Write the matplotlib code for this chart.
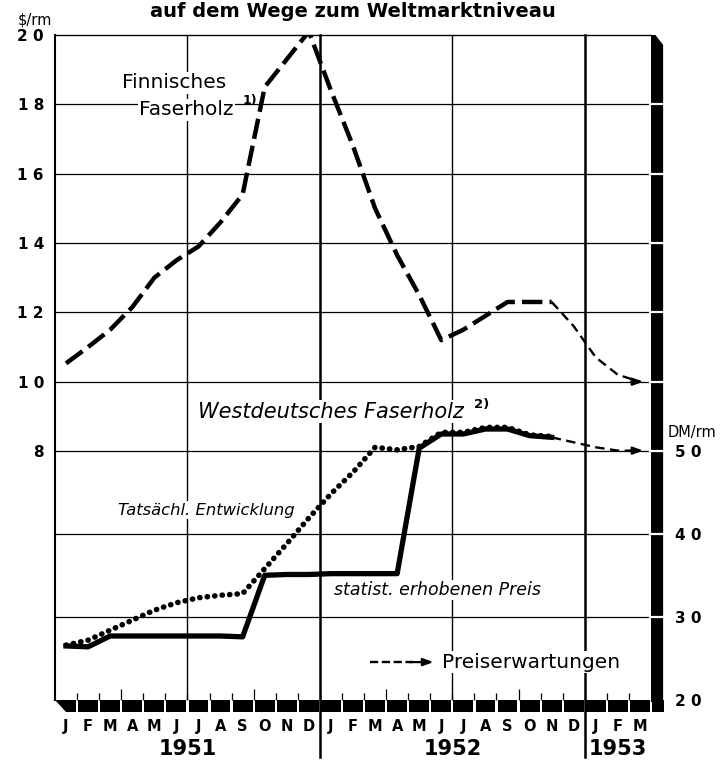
import matplotlib
matplotlib.use("Agg")
import matplotlib.pyplot as plt
from matplotlib.patches import Polygon, Rectangle
from matplotlib.transforms import blended_transform_factory

# --- data ---
month_labels = list("JFMAMJJASOND") * 2 + list("JFM")
years = ["1951", "1952", "1953"]
year_centers = [6, 18, 25.5]

# Finnisches Faserholz, $/rm, Jan 1951 .. Nov 1952
finn = [10.53, 11.0, 11.5, 12.15, 13.0, 13.5, 13.9, 14.6, 15.4, 18.5, 19.3, 20.1,
        18.4, 16.8, 15.0, 13.65, 12.5, 11.2, 11.5, 11.9, 12.3, 12.3, 12.3]
# Preiserwartungen, Nov 1952 .. Mar 1953
finn_exp = [12.3, 11.6, 10.7, 10.2, 10.0]

# Westdeutsches Faserholz, DM/rm
stat = [26.5, 26.4, 27.7, 27.7, 27.7, 27.7, 27.7, 27.7, 27.6, 35.0, 35.1, 35.1,
        35.2, 35.2, 35.2, 35.2, 50.3, 52.0, 52.0, 52.6, 52.6, 51.8, 51.6]
tats = [26.6, 27.2, 28.4, 29.6, 30.8, 31.7, 32.3, 32.6, 32.8, 35.8, 38.8, 41.9,
        44.8, 47.4, 50.4, 50.1, 50.5, 52.2, 52.2, 52.8, 52.8, 51.9, 51.7]
west_exp = [51.6, 51.0, 50.4, 50.0, 50.0]

x_main = [i + 0.5 for i in range(len(finn))]
x_exp = [i + 22.5 for i in range(len(finn_exp))]

fig = plt.figure(figsize=(7.21, 7.6), dpi=100)
ax = fig.add_axes([55 / 721, 60 / 760, 596 / 721, 665 / 760])
ax.set_xlim(0, 27)
ax.set_ylim(0.82, 20)
ax2 = ax.twinx()
ax2.set_ylim(20, 100)
ax2.set_xlim(0, 27)

for s in ["right", "bottom"]:
    ax.spines[s].set_visible(False)
for s in ax2.spines.values():
    s.set_visible(False)
ax.spines["top"].set_linewidth(1.0)
ax.spines["left"].set_linewidth(1.5)

# --- grid ---
for v in [8, 10, 12, 14, 16, 18]:
    ax.axhline(v, color="black", lw=0.9, zorder=1)
for d in [30, 40]:
    ax2.axhline(d, color="black", lw=0.9, zorder=1)
for m in [6, 18]:
    ax.axvline(m, color="black", lw=1.0, zorder=1)
for m in [12, 24]:
    ax.axvline(m, ymin=-0.085, ymax=1, color="black", lw=1.8, zorder=1, clip_on=False)

# --- ticks and labels ---
ax.set_yticks([8, 10, 12, 14, 16, 18, 20])
ax.set_yticklabels(["8", "1 0", "1 2", "1 4", "1 6", "1 8", "2 0"])
ax.tick_params(axis="y", length=0, pad=8, labelsize=11)
ax2.set_yticks([20, 30, 40, 50])
ax2.set_yticklabels(["2 0", "3 0", "4 0", "5 0"])
ax2.tick_params(axis="y", length=0, pad=17, labelsize=11)
for lab in ax.get_yticklabels() + ax2.get_yticklabels():
    lab.set_fontweight("bold")

ax.set_xticks([3, 9, 15, 21])
ax.set_xticks([m for m in range(1, 27) if m % 3 != 0 or m % 6 == 0], minor=True)
ax.tick_params(axis="x", which="major", direction="in", length=8, width=0.9, labelbottom=False)
ax.tick_params(axis="x", which="minor", direction="in", length=5, width=0.9, labelbottom=False)

bt = blended_transform_factory(ax.transData, ax.transAxes)
band = 0.018
ax2.add_patch(Polygon([(0, 0), (0.95, 0), (0.95, -band), (0.5, -band)], closed=True,
                      facecolor="black", transform=bt, clip_on=False))
for k in range(1, 28):
    w = 0.9 if k < 27 else 0.55
    ax2.add_patch(Rectangle((k + 0.05, -band), w, band, facecolor="black",
                            transform=bt, clip_on=False))
ax2.add_patch(Polygon([(27, -0.003), (27, 1.0), (27.2, 1.0), (27.55, 0.985), (27.55, -0.003)],
                      closed=True, facecolor="black", transform=bt, clip_on=False))
for v in [8, 10, 12, 14, 16, 18]:
    ax2.plot([26.95, 27.6], [v, v], color="white", lw=1.6, transform=ax.transData, clip_on=False)
for d in [30, 40]:
    ax2.plot([26.95, 27.6], [d, d], color="white", lw=1.6, clip_on=False)

for i, lab in enumerate(month_labels):
    ax2.text(i + 0.5, -0.04, lab, transform=bt, ha="center", va="center",
             fontsize=10.5, fontweight="bold")
for yr, xc in zip(years, year_centers):
    ax2.text(xc, -0.073, yr, transform=bt, ha="center", va="center",
             fontsize=15, fontweight="bold")

# --- series ---
ax.plot(x_main, finn, color="black", lw=3.2, dashes=(4.6, 1.6), zorder=3)
ax.plot(x_exp, finn_exp, color="black", lw=1.7, dashes=(4, 2.3), zorder=3)
ax.annotate("", xy=(x_exp[-1] + 0.15, finn_exp[-1]), xytext=(x_exp[-1] - 0.4, finn_exp[-1]),
            arrowprops=dict(arrowstyle="-|>,head_length=0.6,head_width=0.22",
                            color="black", lw=1.6, shrinkA=0, shrinkB=0))

ax2.plot(x_main, stat, color="black", lw=3.8, zorder=3)
ax2.plot(x_main, tats, color="black", lw=4.0, linestyle=(0, (0.05, 1.3)),
         dash_capstyle="round", zorder=4)
ax2.plot(x_exp, west_exp, color="black", lw=1.7, dashes=(4, 2.3), zorder=3)
ax2.annotate("", xy=(x_exp[-1] + 0.15, west_exp[-1]), xytext=(x_exp[-1] - 0.4, west_exp[-1]),
             arrowprops=dict(arrowstyle="-|>,head_length=0.6,head_width=0.22",
                             color="black", lw=1.6, shrinkA=0, shrinkB=0))

# --- labels ---
wb = dict(facecolor="white", edgecolor="none", pad=1)
ax2.text(5.4, 18.62, "Finnisches", transform=ax.transData, ha="center", va="center",
         fontsize=14.5, bbox=wb)
ax2.text(5.95, 17.84, "Faserholz", transform=ax.transData, ha="center", va="center",
         fontsize=14.5, bbox=wb)
ax2.text(8.5, 18.12, "1)", transform=ax.transData, ha="left", va="center", fontsize=9,
         fontweight="bold")
ax2.text(6.5, 9.13, "Westdeutsches Faserholz", transform=ax.transData, ha="left",
         va="center", fontsize=15, style="italic", bbox=wb)
ax2.text(19.0, 9.33, "2)", transform=ax.transData, ha="left", va="center", fontsize=9.5,
         fontweight="bold")
ax2.text(2.86, 6.3, "Tatsächl. Entwicklung", transform=ax.transData, ha="left",
         va="center", fontsize=11.8, style="italic", bbox=wb)
ax2.text(12.64, 3.99, "statist. erhobenen Preis", transform=ax.transData, ha="left",
         va="center", fontsize=12.5, style="italic", bbox=wb)

# legend for expectations
ax2.plot([0.528, 0.6], [0.057, 0.057], color="black", lw=1.7, dashes=(3.5, 1.5),
         transform=ax.transAxes, clip_on=False)
ax2.annotate("", xy=(0.635, 0.057), xytext=(0.595, 0.057), xycoords=ax.transAxes,
             textcoords=ax.transAxes,
             arrowprops=dict(arrowstyle="-|>,head_length=0.6,head_width=0.22",
                             color="black", lw=1.6, shrinkA=0, shrinkB=0))
ax2.text(0.649, 0.057, "Preiserwartungen", transform=ax.transAxes, ha="left",
         va="center", fontsize=14.5, bbox=wb)

fig.text(668 / 721, 1 - 432 / 760, "DM/rm", ha="left", va="center", fontsize=10.5)
fig.text(18 / 721, 1 - 20 / 760, "$/rm", ha="left", va="center", fontsize=10.5)
fig.text(353 / 721, 1 - 17 / 760, "auf dem Wege zum Weltmarktniveau", ha="center",
         va="baseline", fontsize=14, fontweight="bold")

fig.savefig("out.png", dpi=100)
